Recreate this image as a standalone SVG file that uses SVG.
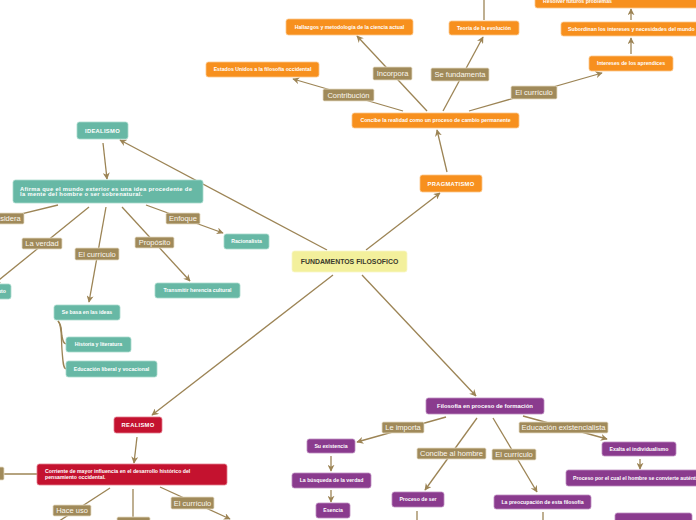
<svg xmlns="http://www.w3.org/2000/svg" width="696" height="520" viewBox="0 0 696 520">
<defs>
<marker id="arr" viewBox="0 0 10 10" refX="9" refY="5" markerUnits="userSpaceOnUse" markerWidth="7" markerHeight="7" orient="auto">
<path d="M0,0 L10,5 L0,10 L3,5 z" fill="#9C8455"/>
</marker>
<style>
.c{stroke:#9C8455;stroke-width:1.3;fill:none}
.a{marker-end:url(#arr)}
.or{fill:#F7901E;stroke:#FBC68C;stroke-width:0.8}
.te{fill:#67B8A5;stroke:#A9DACD;stroke-width:0.8}
.cr{fill:#C4122F;stroke:#E27E8E;stroke-width:0.8}
.pu{fill:#8A3B8E;stroke:#BE8DC0;stroke-width:0.8}
.ye{fill:#F3F09C;stroke:#F8F6C8;stroke-width:0.8}
.lb{fill:#A08A5A;stroke:#E6DCC4;stroke-width:0.8}
.t{font-family:"Liberation Sans",Arial,sans-serif;font-weight:bold;font-size:5.2px;fill:#fff;text-anchor:middle}
.ts{font-family:"Liberation Sans",Arial,sans-serif;font-weight:bold;font-size:5.2px;fill:#fff}
.h{font-family:"Liberation Sans",Arial,sans-serif;font-weight:bold;font-size:5.8px;fill:#fff;text-anchor:middle;letter-spacing:0.3px}
.l{font-family:"Liberation Sans",Arial,sans-serif;font-size:7.5px;fill:#FBF7EE;text-anchor:middle}
</style>
</defs>
<g id="connectors">
<path class="c a" d="M327,250 L120,140"/>
<path class="c a" d="M366,250 L440,193"/>
<path class="c a" d="M333,275 L152,415"/>
<path class="c a" d="M362,275 L476,396"/>
<path class="c a" d="M447,172 L437,130"/>
<path class="c a" d="M403,111 L293,79"/>
<path class="c a" d="M427,111 L357,36"/>
<path class="c a" d="M443,111 L483,37"/>
<path class="c a" d="M469,111 L602,73"/>
<path class="c a" d="M631,54 L631,38"/>
<path class="c a" d="M631,20 L631,9"/>
<path class="c" d="M484,20 L484,-2"/>
<path class="c a" d="M103,143 L107,179"/>
<path class="c" d="M58,205 L-20,224"/>
<path class="c a" d="M89,207 L-6,284"/>
<path class="c a" d="M106,207 L89,302"/>
<path class="c a" d="M122,207 L190,281"/>
<path class="c a" d="M146,205 L223,233"/>
<path class="c" d="M58,321 C62,325 61,330 62,336 C63,341 63,343 66,344"/>
<path class="c" d="M58,321 C62,325 61,335 62,350 C63,362 63,368 66,369"/>
<path class="c a" d="M137,437 L134,463"/>
<path class="c" d="M37,474 L-5,474"/>
<path class="c" d="M110,488 L50,527"/>
<path class="c" d="M133,489 L133,522"/>
<path class="c a" d="M160,487 L230,519"/>
<path class="c a" d="M446,417 L357,442"/>
<path class="c a" d="M331,456 L331,471"/>
<path class="c a" d="M331,490 L331,502"/>
<path class="c a" d="M477,418 L425,490"/>
<path class="c" d="M417,511 L417,522"/>
<path class="c a" d="M493,418 L537,492"/>
<path class="c" d="M543,512 L543,522"/>
<path class="c a" d="M523,416 L607,439"/>
<path class="c a" d="M640,459 L640,469"/>
</g>
<g id="labels">
<rect class="lb" x="323" y="89" width="51" height="12" rx="1.5"/><text class="l" x="348.5" y="97.6">Contribución</text>
<rect class="lb" x="373" y="67" width="39" height="13" rx="1.5"/><text class="l" x="392.5" y="76.2">Incorpora</text>
<rect class="lb" x="431" y="68" width="58" height="13" rx="1.5"/><text class="l" x="460" y="77.2">Se fundamenta</text>
<rect class="lb" x="511" y="86" width="46" height="13" rx="1.5"/><text class="l" x="534" y="95.2">El currículo</text>
<rect class="lb" x="-17" y="213" width="41" height="11" rx="1.5"/><text class="l" x="3.5" y="221.2">Considera</text>
<rect class="lb" x="22" y="238" width="40" height="11" rx="1.5"/><text class="l" x="42" y="246.2">La verdad</text>
<rect class="lb" x="75" y="248" width="44" height="12" rx="1.5"/><text class="l" x="97" y="256.7">El currículo</text>
<rect class="lb" x="135" y="237" width="39" height="11" rx="1.5"/><text class="l" x="154.5" y="245.2">Propósito</text>
<rect class="lb" x="166" y="213" width="34" height="11" rx="1.5"/><text class="l" x="183" y="221.2">Enfoque</text>
<rect class="lb" x="-30" y="467" width="34" height="13" rx="1.5"/>
<rect class="lb" x="53" y="505" width="38" height="11" rx="1.5"/><text class="l" x="72" y="513.2">Hace uso</text>
<rect class="lb" x="117" y="517" width="33" height="12" rx="1.5"/>
<rect class="lb" x="171" y="497" width="43" height="12" rx="1.5"/><text class="l" x="192.5" y="505.7">El currículo</text>
<rect class="lb" x="382" y="422" width="42" height="11" rx="1.5"/><text class="l" x="403" y="430.2">Le importa</text>
<rect class="lb" x="417" y="448" width="69" height="11" rx="1.5"/><text class="l" x="451.5" y="456.2">Concibe al hombre</text>
<rect class="lb" x="492" y="449" width="44" height="11" rx="1.5"/><text class="l" x="514" y="457.2">El currículo</text>
<rect class="lb" x="519" y="422" width="89" height="11" rx="1.5"/><text class="l" x="563.5" y="430.2">Educación existencialista</text>
</g>
<g id="n-center"><rect class="ye" x="292" y="251" width="115" height="21" rx="2.5"/><text x="349.5" y="264" style="font-family:'Liberation Sans',Arial,sans-serif;font-weight:bold;font-size:6.9px;fill:#3A3A2C;text-anchor:middle">FUNDAMENTOS FILOSOFICO</text></g>
<g id="n-pragmatismo"><rect class="or" x="420" y="175" width="62" height="17" rx="2.5"/><text class="h" x="451" y="185.6">PRAGMATISMO</text></g>
<g id="n-concibe"><rect class="or" x="352" y="113" width="167" height="15" rx="2.5"/><text class="t" x="435.5" y="122.4">Concibe la realidad como un proceso de cambio permanente</text></g>
<g id="n-estados"><rect class="or" x="206" y="62" width="113" height="15" rx="2.5"/><text class="t" x="262.5" y="71.4">Estados Unidos a la filosofía occidental</text></g>
<g id="n-hallazgos"><rect class="or" x="286" y="19" width="127" height="16" rx="2.5"/><text class="t" x="349.5" y="28.9">Hallazgos y metodología de la ciencia actual</text></g>
<g id="n-teoria"><rect class="or" x="449" y="21" width="70" height="14" rx="2.5"/><text class="t" x="484" y="29.9">Teoría de la evolución</text></g>
<g id="n-intereses"><rect class="or" x="589" y="56" width="84" height="15" rx="2.5"/><text class="t" x="631" y="65.4">Intereses de los aprendices</text></g>
<g id="n-subordinan"><rect class="or" x="561" y="22" width="150" height="14" rx="2.5"/><text class="ts" x="568" y="30.9">Subordinan los intereses y necesidades del mundo</text></g>
<g id="n-resolver"><rect class="or" x="535" y="-10" width="176" height="18" rx="2.5"/><text class="ts" x="543" y="2.9">Resolver futuros problemas</text></g>
<g id="n-idealismo"><rect class="te" x="77" y="122" width="51" height="17" rx="2.5"/><text class="h" x="102.5" y="132.6">IDEALISMO</text></g>
<g id="n-afirma"><rect class="te" x="13" y="180" width="190" height="23" rx="2.5"/><text style="font-family:'Liberation Sans',Arial,sans-serif;font-weight:bold;font-size:5.8px;fill:#fff;letter-spacing:0.32px"><tspan x="20" y="190.6">Afirma que el mundo exterior es una idea procedente de</tspan><tspan x="20" y="196.4">la mente del hombre o ser sobrenatural.</tspan></text></g>
<g id="n-racionalista"><rect class="te" x="224" y="234" width="45" height="15" rx="2.5"/><text class="t" x="246.5" y="243.4">Racionalista</text></g>
<g id="n-transmitir"><rect class="te" x="155" y="283" width="85" height="15" rx="2.5"/><text class="t" x="197.5" y="292.4">Transmitir herencia cultural</text></g>
<g id="n-sebasa"><rect class="te" x="54" y="305" width="66" height="15" rx="2.5"/><text class="t" x="87" y="314.4">Se basa en las ideas</text></g>
<g id="n-historia"><rect class="te" x="66" y="337" width="65" height="15" rx="2.5"/><text class="t" x="98.5" y="346.4">Historia y literatura</text></g>
<g id="n-educacion"><rect class="te" x="66" y="361" width="91" height="16" rx="2.5"/><text class="t" x="111.5" y="370.9">Educación liberal y vocacional</text></g>
<g id="n-absoluto"><rect class="te" x="-40" y="284" width="51" height="15" rx="2.5"/><text class="ts" x="6" y="293.4" style="text-anchor:end">Absoluto</text></g>
<g id="n-realismo"><rect class="cr" x="114" y="417" width="48" height="16" rx="2.5"/><text class="h" x="138" y="427.1">REALISMO</text></g>
<g id="n-corriente"><rect class="cr" x="37" y="464" width="190" height="21" rx="2.5"/><text class="ts"><tspan x="45" y="473.4">Corriente de mayor influencia en el desarrollo histórico del</tspan><tspan x="45" y="479">pensamiento occidental.</tspan></text></g>
<g id="n-filosofia"><rect class="pu" x="426" y="398" width="118" height="16" rx="2.5"/><text class="t" x="485" y="408.1" style="font-size:5.9px">Filosofía en proceso de formación</text></g>
<g id="n-existencia"><rect class="pu" x="307" y="439" width="48" height="14" rx="2.5"/><text class="t" x="331" y="447.9">Su existencia</text></g>
<g id="n-busqueda"><rect class="pu" x="292" y="473" width="79" height="15" rx="2.5"/><text class="t" x="331.5" y="482.4">La búsqueda de la verdad</text></g>
<g id="n-esencia"><rect class="pu" x="316" y="503" width="34" height="15" rx="2.5"/><text class="t" x="333" y="512.4">Esencia</text></g>
<g id="n-procesoser"><rect class="pu" x="392" y="492" width="52" height="15" rx="2.5"/><text class="t" x="418" y="501.4">Proceso de ser</text></g>
<g id="n-preocupacion"><rect class="pu" x="494" y="495" width="97" height="14" rx="2.5"/><text class="t" x="542.5" y="503.9">La preocupación de esta filosofía</text></g>
<g id="n-exalta"><rect class="pu" x="602" y="442" width="74" height="14" rx="2.5"/><text class="t" x="639" y="450.9">Exalta el individualismo</text></g>
<g id="n-procesocual"><rect class="pu" x="566" y="470" width="150" height="16" rx="2.5"/><text class="ts" x="573" y="479.9">Proceso por el cual el hombre se convierte auténtico</text></g>
<g id="n-bottomright"><rect class="pu" x="615" y="513" width="77" height="16" rx="2.5"/></g>
</svg>
